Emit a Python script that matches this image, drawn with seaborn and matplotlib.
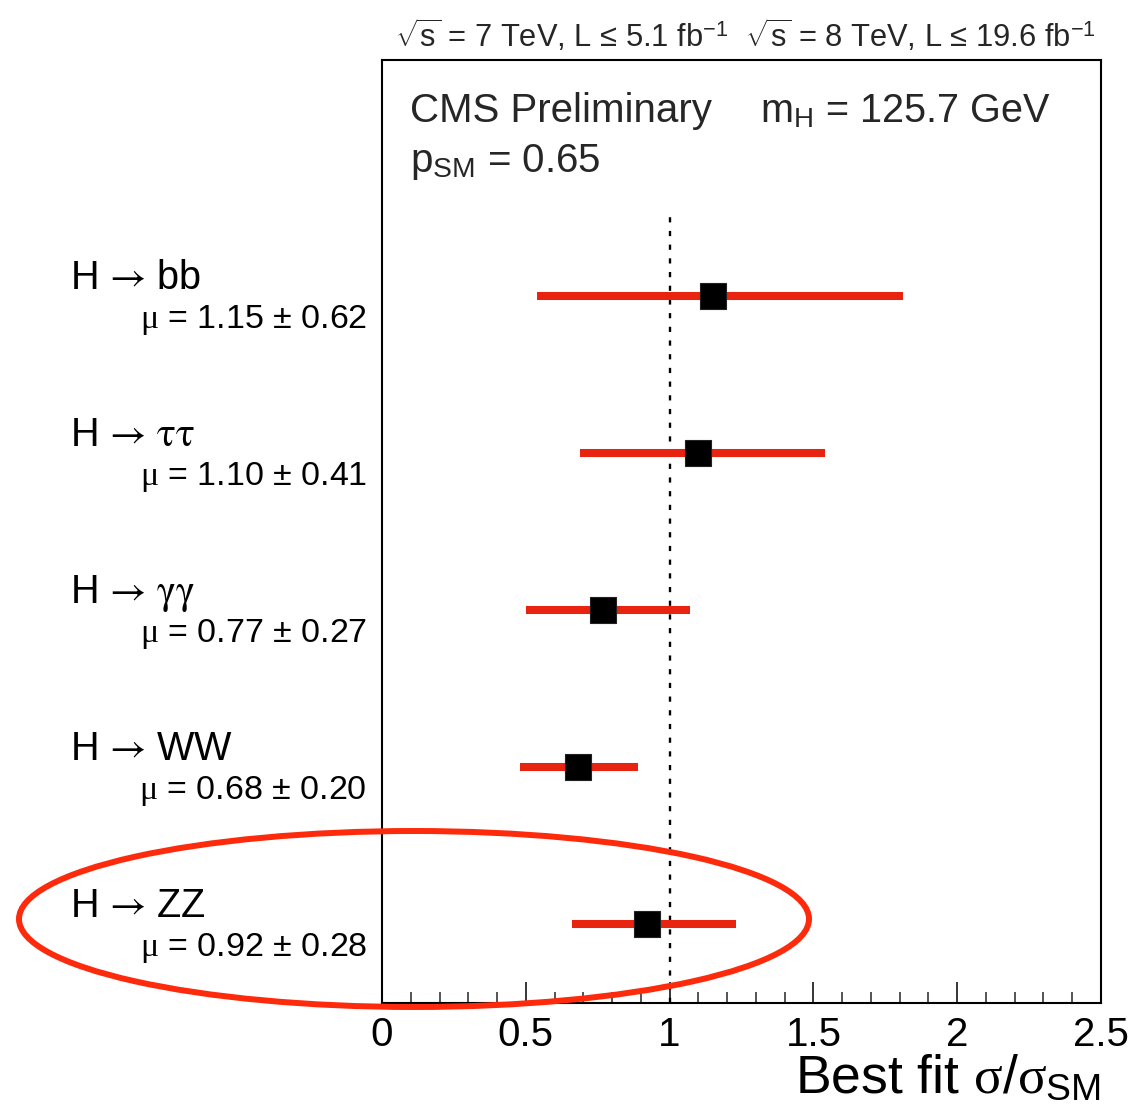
import numpy as np
import pandas as pd
import matplotlib
matplotlib.use("Agg")
import matplotlib.pyplot as plt
import seaborn as sns
from matplotlib.patches import Ellipse
from matplotlib.transforms import blended_transform_factory
from matplotlib.ticker import MultipleLocator, FuncFormatter

# Signal strength per decay channel (best fit and 68% interval)
channels = [r"H$\,\rightarrow\,$bb",
            r"H$\,\rightarrow\,\mathrm{\tau\tau}$",
            r"H$\,\rightarrow\,\mathrm{\gamma\gamma}$",
            r"H$\,\rightarrow\,$WW",
            r"H$\,\rightarrow\,$ZZ"]
mu_best = [1.15, 1.10, 0.77, 0.68, 0.92]
mu_low = [0.54, 0.69, 0.50, 0.48, 0.66]
mu_high = [1.81, 1.54, 1.07, 0.89, 1.23]
mu_quoted_err = [0.62, 0.41, 0.27, 0.20, 0.28]
sm_value = 1.0

sns.set_theme(style="ticks")
plt.rcParams["font.family"] = ["Liberation Sans", "DejaVu Sans"]
plt.rcParams["mathtext.fontset"] = "custom"
plt.rcParams["mathtext.rm"] = "Liberation Sans"
plt.rcParams["mathtext.sf"] = "Liberation Sans"
plt.rcParams["mathtext.it"] = "Liberation Serif"
plt.rcParams["mathtext.bf"] = "Liberation Sans:bold"

n = len(channels)
df = pd.DataFrame({
    "channel": channels,
    "mu": mu_best,
    "lo": mu_low,
    "hi": mu_high,
    "err": mu_quoted_err,
})
df["ypos"] = n - np.arange(n) - 0.5

W, H = 1132, 1115
fig = plt.figure(figsize=(W / 100, H / 100), dpi=100)
ax = fig.add_axes([382 / W, 1 - 1003 / H, (1101 - 382) / W, (1003 - 60) / H])

# SM expectation
ax.vlines(sm_value, 0, n, colors="black", linewidth=1.7,
          linestyles=(0, (2.2, 3.6)), zorder=1)

# 68% intervals and best-fit markers
ax.hlines(df["ypos"], df["lo"], df["hi"], colors="#e8230f", linewidth=5.8,
          zorder=2, capstyle="butt")
sns.scatterplot(data=df, x="mu", y="ypos", marker="s", s=370, color="black",
                edgecolor="#222222", linewidth=0.8, ax=ax, zorder=3,
                legend=False)

ax.set_xlim(0, 2.5)
ax.set_ylim(0, n + 1)
ax.set_yticks([])
ax.set_ylabel("")
ax.xaxis.set_major_locator(MultipleLocator(0.5))
ax.xaxis.set_minor_locator(MultipleLocator(0.1))
ax.xaxis.set_major_formatter(FuncFormatter(lambda v, p: f"{v:g}"))
ax.tick_params(axis="x", which="major", direction="in", length=15, width=1.1,
               labelsize=29, pad=9, colors="black")
ax.tick_params(axis="x", which="minor", direction="in", length=8, width=1.1)
for sp in ax.spines.values():
    sp.set_visible(True)
    sp.set_linewidth(1.5)
    sp.set_color("black")

ax.set_xlabel(r"Best fit $\sigma$/$\sigma_{\mathrm{SM}}$", fontsize=38.5,
              loc="right", labelpad=0, color="black")

# Channel names and quoted signal strengths
tr = blended_transform_factory(fig.transFigure, ax.transData)
for _, r in df.iterrows():
    ax.text(70 / W, r["ypos"] + 0.045, r["channel"], transform=tr,
            fontsize=28.5, ha="left", va="baseline", color="black",
            math_fontfamily="stix")
    ax.text(367 / W, r["ypos"] - 0.204,
            rf"$\mu$ = {r['mu']:.2f} ± {r['err']:.2f}", transform=tr,
            fontsize=24.5, ha="right", va="baseline", color="black")

# Header and in-frame annotations
fig.text(395 / W, 1 - 47 / H,
         r"$\sqrt{\mathrm{s}}$ = 7 TeV, L ≤ 5.1 fb$^{-1}$  "
         r"$\sqrt{\mathrm{s}}$ = 8 TeV, L ≤ 19.6 fb$^{-1}$",
         fontsize=22.2, ha="left", va="baseline")
fig.text(410 / W, 1 - 122 / H, "CMS Preliminary", fontsize=29,
         ha="left", va="baseline")
fig.text(760 / W, 1 - 122 / H, r"m$_{\mathrm{H}}$ = 125.7 GeV", fontsize=28.5,
         ha="left", va="baseline")
fig.text(410 / W, 1 - 172 / H, r"p$_{\mathrm{SM}}$ = 0.65", fontsize=29,
         ha="left", va="baseline")

# Highlight around the ZZ channel
ring = Ellipse((414 / W, 1 - 919 / H), 790 / W, 176 / H,
               transform=fig.transFigure, fill=False, edgecolor="#fd2a0c",
               linewidth=4.3, clip_on=False, zorder=10)
fig.add_artist(ring)

fig.savefig("out.png", dpi=100, facecolor="white")
